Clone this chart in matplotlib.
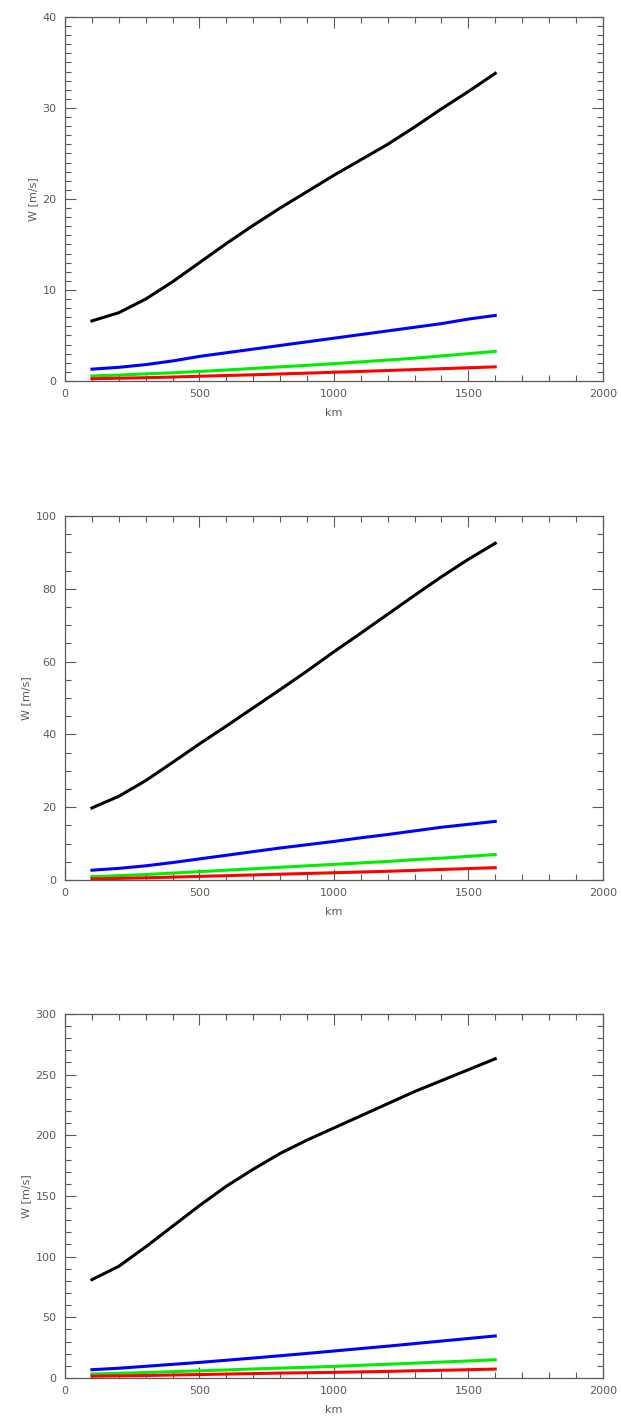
import matplotlib
matplotlib.use('Agg')
import matplotlib.pyplot as plt
from matplotlib.ticker import MultipleLocator

# distance along path [km]
km = [100, 200, 300, 400, 500, 600, 700, 800, 900, 1000, 1100, 1200, 1300, 1400, 1500, 1600]

# panel 1
w1_black = [6.6, 7.5, 9.0, 10.9, 13.0, 15.1, 17.1, 19.0, 20.8, 22.6, 24.3, 26.0, 27.9, 29.9, 31.8, 33.8]
w1_blue  = [1.3, 1.5, 1.8, 2.2, 2.7, 3.1, 3.5, 3.9, 4.3, 4.7, 5.1, 5.5, 5.9, 6.3, 6.8, 7.2]
w1_green = [0.55, 0.65, 0.78, 0.9, 1.05, 1.2, 1.38, 1.55, 1.72, 1.9, 2.1, 2.3, 2.5, 2.75, 3.0, 3.25]
w1_red   = [0.25, 0.3, 0.36, 0.43, 0.52, 0.6, 0.68, 0.77, 0.86, 0.96, 1.05, 1.15, 1.25, 1.35, 1.45, 1.55]

# panel 2
w2_black = [19.8, 23.0, 27.3, 32.3, 37.4, 42.3, 47.3, 52.3, 57.4, 62.7, 67.8, 73.0, 78.2, 83.3, 88.1, 92.5]
w2_blue  = [2.7, 3.2, 3.9, 4.8, 5.8, 6.8, 7.8, 8.8, 9.7, 10.6, 11.6, 12.5, 13.5, 14.5, 15.3, 16.1]
w2_green = [0.9, 1.2, 1.5, 1.9, 2.3, 2.7, 3.1, 3.5, 3.9, 4.3, 4.7, 5.1, 5.6, 6.0, 6.5, 7.0]
w2_red   = [0.3, 0.45, 0.6, 0.8, 1.0, 1.2, 1.4, 1.6, 1.8, 2.0, 2.2, 2.4, 2.65, 2.9, 3.15, 3.4]

# panel 3
w3_black = [81, 92, 108, 125, 142, 158, 172, 185, 196, 206, 216, 226, 236, 245, 254, 263]
w3_blue  = [6.8, 8.0, 9.6, 11.2, 12.8, 14.6, 16.4, 18.3, 20.2, 22.2, 24.2, 26.2, 28.3, 30.4, 32.5, 34.6]
w3_green = [3.2, 3.8, 4.5, 5.2, 5.9, 6.6, 7.4, 8.1, 8.8, 9.5, 10.4, 11.3, 12.2, 13.1, 14.0, 15.0]
w3_red   = [1.4, 1.7, 2.0, 2.4, 2.8, 3.2, 3.6, 4.0, 4.3, 4.6, 5.0, 5.4, 5.9, 6.3, 6.8, 7.3]

ymax = [40, 100, 300]
ymajor = [10, 20, 50]
yminor = [1, 5, 10]
series = [(w1_black, w1_blue, w1_green, w1_red),
          (w2_black, w2_blue, w2_green, w2_red),
          (w3_black, w3_blue, w3_green, w3_red)]
bottoms = [0.7319, 0.3807, 0.0303]

grey = '#5a5a5a'
plt.rcParams['font.family'] = ['DejaVu Sans']
plt.rcParams['font.size'] = 8

fig = plt.figure(figsize=(6.21, 14.21), dpi=100)

for i in range(3):
    ax = fig.add_axes([0.1047, bottoms[i], 0.866, 0.2562])
    blk, blu, grn, red = series[i]
    ax.plot(km, blk, color='black', lw=2.2)
    ax.plot(km, blu, color='#0000ff', lw=2.2)
    ax.plot(km, grn, color='#00ee00', lw=2.2)
    ax.plot(km, red, color='#ff0000', lw=2.2)
    ax.set_xlim(0, 2000)
    ax.set_ylim(0, ymax[i])
    ax.xaxis.set_major_locator(MultipleLocator(500))
    ax.xaxis.set_minor_locator(MultipleLocator(100))
    ax.yaxis.set_major_locator(MultipleLocator(ymajor[i]))
    ax.yaxis.set_minor_locator(MultipleLocator(yminor[i]))
    ax.tick_params(which='both', direction='in', top=True, right=True,
                   color=grey, labelcolor=grey, width=0.8)
    ax.tick_params(which='major', length=8, pad=6)
    ax.tick_params(which='minor', length=4)
    for s in ax.spines.values():
        s.set_color(grey)
        s.set_linewidth(0.9)
    ax.set_xlabel('km', color=grey, labelpad=6)
    ax.set_ylabel('W [m/s]', color=grey, labelpad=3)

fig.savefig('out.png', dpi=100)
